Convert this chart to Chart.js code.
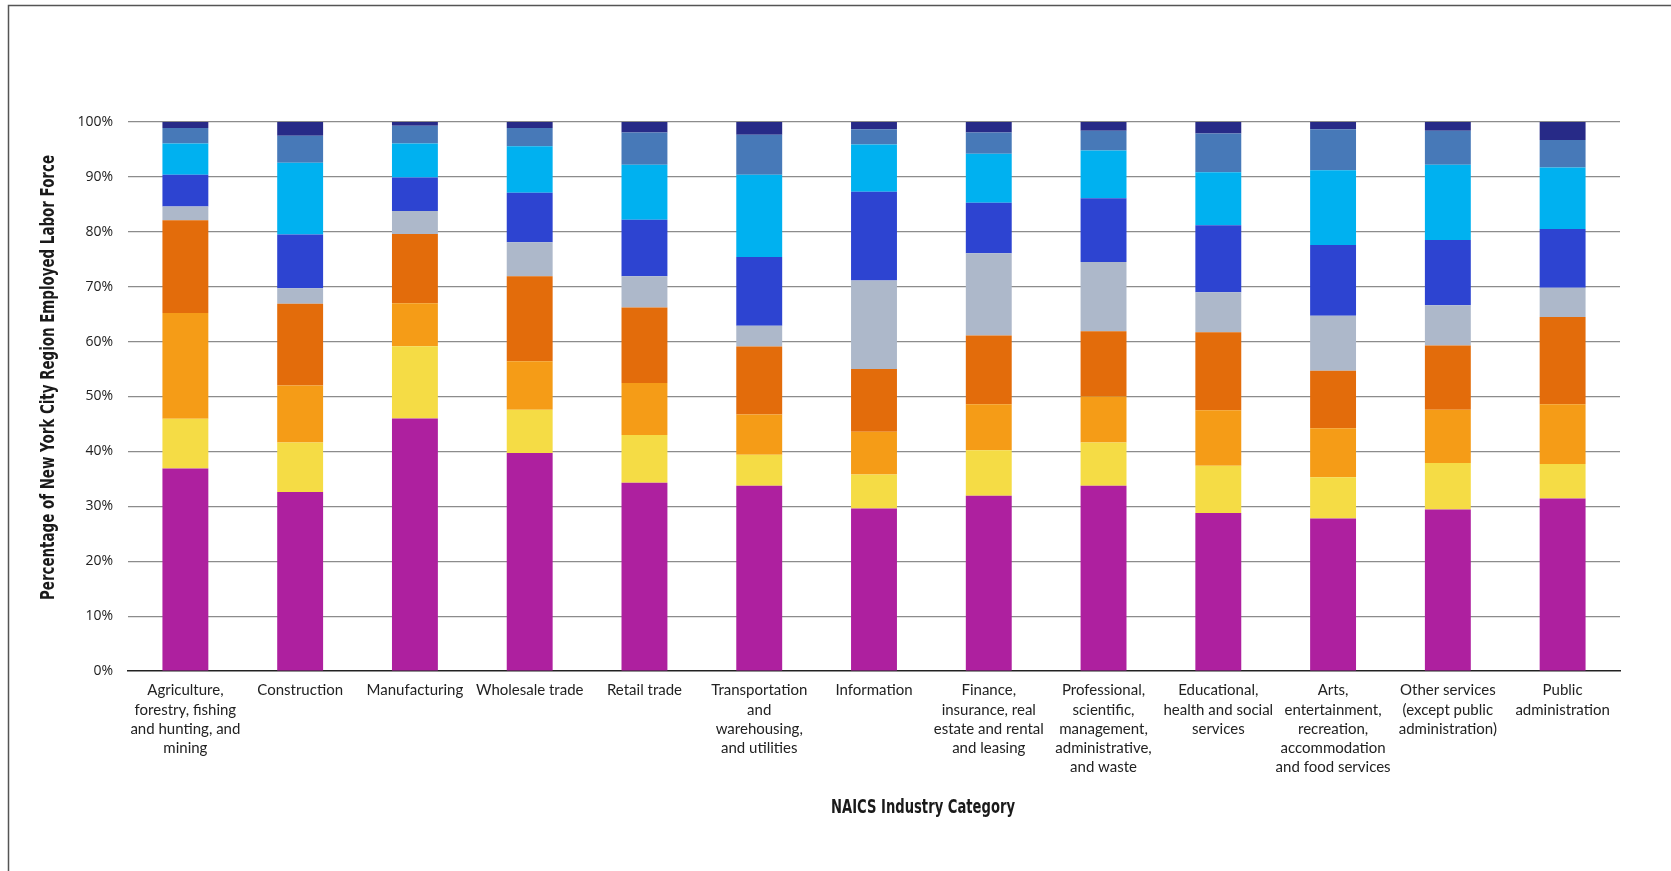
<!DOCTYPE html>
<html lang="en">
<head>
    <meta charset="UTF-8">
    <title>NAICS Industry Category - NYC Region Employed Labor Force</title>
    <script src="https://cdn.jsdelivr.net/npm/chart.js"></script>
    <style>
        body { margin: 0; background: #fff; }
        canvas { display: block; }
    </style>
</head>
<body>
    <canvas id="laborChart" width="1671" height="871"></canvas>

    <script>
        // industry categories (already split into the wrapped lines of the picture)
        const categories = [
            ['Agriculture,', 'forestry, fishing', 'and hunting, and', 'mining'],
            ['Construction'],
            ['Manufacturing'],
            ['Wholesale trade'],
            ['Retail trade'],
            ['Transportation', 'and', 'warehousing,', 'and utilities'],
            ['Information'],
            ['Finance,', 'insurance, real', 'estate and rental', 'and leasing'],
            ['Professional,', 'scientific,', 'management,', 'administrative,', 'and waste'],
            ['Educational,', 'health and social', 'services'],
            ['Arts,', 'entertainment,', 'recreation,', 'accommodation', 'and food services'],
            ['Other services', '(except public', 'administration)'],
            ['Public', 'administration']
        ];

        // share of employed labor force (%), bottom segment first
        const group1 = [36.9, 32.6, 46.0, 39.7, 34.3, 33.75, 29.6, 31.9, 33.75, 28.8, 27.8, 29.4, 31.4];
        const group2 = [9.05, 9.0, 13.15, 7.9, 8.7, 5.65, 6.2, 8.3, 7.85, 8.6, 7.5, 8.5, 6.3];
        const group3 = [19.25, 10.4, 7.85, 8.8, 9.45, 7.3, 7.8, 8.4, 8.4, 10.1, 8.9, 9.7, 10.9];
        const group4 = [16.9, 14.9, 12.6, 15.5, 13.75, 12.4, 11.4, 12.5, 11.9, 14.2, 10.5, 11.7, 15.9];
        const group5 = [2.5, 2.8, 4.2, 6.2, 5.7, 3.8, 16.15, 15.0, 12.6, 7.3, 10.0, 7.3, 5.3];
        const group6 = [5.8, 9.8, 6.1, 9.0, 10.3, 12.5, 16.15, 9.2, 11.6, 12.2, 12.9, 11.9, 10.7];
        const group7 = [5.7, 13.1, 6.2, 8.5, 10.0, 15.0, 8.6, 8.9, 8.7, 9.65, 13.6, 13.7, 11.2];
        const group8 = [2.8, 4.9, 3.2, 3.3, 5.9, 7.3, 2.8, 3.9, 3.6, 7.05, 7.5, 6.2, 5.0];
        const group9 = [1.1, 2.5, 0.7, 1.1, 1.9, 2.3, 1.3, 1.9, 1.6, 2.1, 1.3, 1.6, 3.3];

        const seriesNames = ['Group 1', 'Group 2', 'Group 3', 'Group 4', 'Group 5', 'Group 6', 'Group 7', 'Group 8', 'Group 9'];
        const seriesData = [group1, group2, group3, group4, group5, group6, group7, group8, group9];
        const seriesColors = ['#ae209f', '#f5dc45', '#f59c17', '#e36c0b', '#adb8ca', '#2d44d1', '#00b1f0', '#4779b8', '#272a87'];

        const yTickValues = [0, 10, 20, 30, 40, 50, 60, 70, 80, 90, 100];

        const xTitle = 'NAICS Industry Category';
        const yTitle = 'Percentage of New York City Region Employed Labor Force';

        // the titles use a condensed bold face; squeeze to the width seen in the original
        function condensedText(ctx, text, x, y, targetWidth) {
            const w = ctx.measureText(text).width;
            const sx = Math.min(1, targetWidth / w);
            ctx.save();
            ctx.translate(x, y);
            ctx.scale(sx, 1);
            ctx.fillText(text, 0, 0);
            ctx.restore();
        }

        // frame lines + axis titles (titles sit off-centre in the original)
        const extras = {
            id: 'extras',
            beforeDraw(chart) {
                const ctx = chart.ctx;
                ctx.save();
                ctx.strokeStyle = '#555';
                ctx.lineWidth = 1.5;
                ctx.beginPath();
                ctx.moveTo(8.5, chart.height);
                ctx.lineTo(8.5, 5.5);
                ctx.lineTo(chart.width, 5.5);
                ctx.stroke();
                ctx.restore();
            },
            afterDraw(chart) {
                const { ctx, chartArea } = chart;
                ctx.save();
                ctx.fillStyle = '#1a1a1a';
                ctx.font = 'bold 20px "DejaVu Sans", sans-serif';
                ctx.textAlign = 'center';
                ctx.textBaseline = 'middle';
                condensedText(ctx, xTitle, (chartArea.left + chartArea.right) / 2 + 49, chartArea.bottom + 137, 184);
                ctx.translate(49, (chartArea.top + chartArea.bottom) / 2 - 19);
                ctx.rotate(-Math.PI / 2);
                condensedText(ctx, yTitle, 0, 0, 445);
                ctx.restore();
            }
        };

        const ctx = document.getElementById('laborChart').getContext('2d');
        new Chart(ctx, {
            type: 'bar',
            data: {
                labels: categories,
                datasets: seriesNames.map((name, i) => ({
                    label: name,
                    data: seriesData[i],
                    backgroundColor: seriesColors[i],
                    borderWidth: 0,
                    barPercentage: 0.4,
                    categoryPercentage: 1.0
                }))
            },
            options: {
                responsive: false,
                animation: false,
                layout: { padding: { left: 0, top: 122, right: 51, bottom: 0 } },
                plugins: {
                    legend: { display: false },
                    tooltip: { enabled: false }
                },
                scales: {
                    x: {
                        stacked: true,
                        grid: { display: false, drawTicks: false },
                        border: { display: true, color: '#222', width: 1.5 },
                        ticks: {
                            color: '#222',
                            font: { family: 'Lato, "Open Sans", sans-serif', size: 15, lineHeight: 1.28 },
                            maxRotation: 0,
                            autoSkip: false,
                            padding: 10
                        },
                        afterFit(scale) { scale.height = 200; }
                    },
                    y: {
                        stacked: true,
                        min: 0,
                        max: 100,
                        z: 1,
                        afterBuildTicks(scale) { scale.ticks = yTickValues.map(v => ({ value: v })); },
                        grid: {
                            drawTicks: false,
                            color: c => c.tick && c.tick.value === 0 ? 'rgba(0,0,0,0)' : 'rgba(0,0,0,0.45)',
                            lineWidth: 1.2
                        },
                        border: { display: false },
                        ticks: {
                            color: '#222',
                            font: { family: '"Open Sans", sans-serif', size: 14 },
                            padding: 15,
                            callback: v => v + '%'
                        },
                        afterFit(scale) { scale.width = 128; }
                    }
                }
            },
            plugins: [extras]
        });
    </script>
</body>
</html>
